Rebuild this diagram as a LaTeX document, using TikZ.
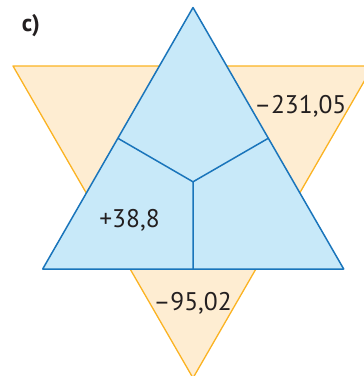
\documentclass[tikz,border=0pt]{standalone}
\usepackage{fontspec}
\setmainfont{PT Sans}
\usetikzlibrary{calc}
\definecolor{skyfill}{HTML}{C8E9F9}
\definecolor{skyline}{HTML}{1A75BB}
\definecolor{peachfill}{HTML}{FEEDD2}
\definecolor{peachline}{HTML}{FBB322}
\definecolor{inktext}{HTML}{231F20}
\begin{document}
\begin{tikzpicture}[x=1pt, y=-1pt,
    every node/.style={font=\fontsize{25.5}{30}\selectfont, text=inktext, inner sep=0pt, anchor=base},
    peach/.style={fill=peachfill, draw=peachline, line width=1.3pt, line join=round},
    sky/.style={fill=skyfill, draw=skyline, line width=1.5pt, line join=round},
    split/.style={draw=skyline, line width=1.5pt}]
    \useasboundingbox (0,0) rectangle (364,376);

    % back triangle, pointing down
    \begin{scope}
        \clip (0,0) rectangle (364,376);
        \draw[peach] (13,66) -- (373,66) -- (193,378) -- cycle;
    \end{scope}

    % front triangle, pointing up
    \coordinate (apex) at (193,7.5);
    \coordinate (left) at (42.7,269);
    \coordinate (right) at (343.7,269);
    \coordinate (hub) at (193,181.8);
    \draw[sky] (apex) -- (right) -- (left) -- cycle;
    \draw[split] ($(apex)!0.5!(left)$) -- (hub) -- ($(apex)!0.5!(right)$);
    \draw[split] (hub) -- ($(left)!0.5!(right)$);

    \node[font=\fontsize{24}{28}\selectfont\bfseries] (tag) at (31,31) {c)};
    \node (valA) at (300.3,113) {\textendash231,05};
    \node (valB) at (129.5,227) {+38,8};
    \node (valC) at (192.7,310.7) {\textendash95,02};
\end{tikzpicture}
\end{document}
